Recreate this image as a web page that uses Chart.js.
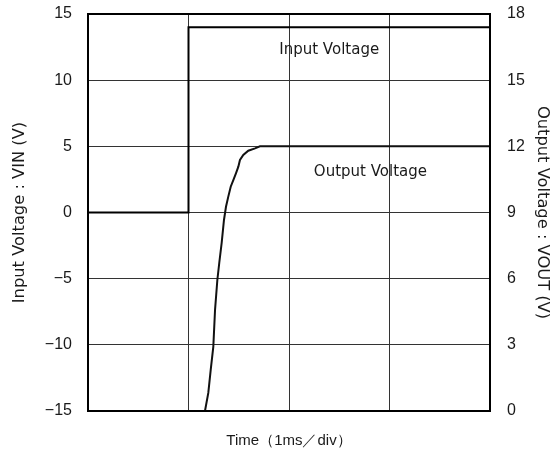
<!DOCTYPE html>
<html>
<head>
<meta charset="utf-8">
<script src="https://cdn.jsdelivr.net/npm/chart.js@4/dist/chart.umd.min.js"></script>
<style>
html,body{margin:0;padding:0;background:#fff;}
#wrap{width:560px;height:457px;position:relative;}
</style>
</head>
<body>
<div id="wrap"><canvas id="c" width="560" height="457"></canvas></div>
<script>
// Time in divisions (1 ms/div)
const inputTime = [0, 1, 1, 4];
const inputVoltage = [0, 0, 14, 14];           // VIN (V), left axis
const outputTime = [1.164, 1.197, 1.221, 1.247, 1.264, 1.287, 1.306, 1.330, 1.353, 1.373, 1.396, 1.420, 1.446, 1.473, 1.496, 1.512, 1.545, 1.595, 1.662, 1.711, 4];
const outputVoltage = [0, 0.82, 1.86, 2.92, 4.58, 5.94, 6.71, 7.62, 8.66, 9.26, 9.72, 10.17, 10.47, 10.79, 11.08, 11.38, 11.61, 11.80, 11.91, 12.0, 12.0]; // VOUT (V), right axis
const leftTicks = [-15, -10, -5, 0, 5, 10, 15];
const rightTicks = [0, 3, 6, 9, 12, 15, 18];
const labelTexts = ['Input Voltage', 'Output Voltage'];
const labelX = [2.40, 2.81];
const labelY = [12.3, 3.05];

const FONT = "'Liberation Sans', Arial, sans-serif";
const LFONT = "'DejaVu Sans', sans-serif";
const TXT = '#1a1a1a';

const inputData = inputTime.map((t, i) => ({x: t, y: inputVoltage[i]}));
const outputData = outputTime.map((t, i) => ({x: t, y: outputVoltage[i]}));

const frame = {
  id: 'frame',
  afterDatasetsDraw(chart) {
    const {ctx, chartArea: a, scales} = chart;
    ctx.save();
    ctx.strokeStyle = '#000';
    ctx.lineWidth = 2;
    ctx.strokeRect(a.left, a.top, a.right - a.left, a.bottom - a.top);
    ctx.fillStyle = TXT;
    ctx.font = "15px " + LFONT;
    ctx.textAlign = 'center';
    ctx.textBaseline = 'middle';
    labelTexts.forEach((t, i) => {
      ctx.fillText(t, scales.x.getPixelForValue(labelX[i]), scales.y.getPixelForValue(labelY[i]));
    });
    ctx.restore();
  }
};

function fixV(width) {
  return function (s) { s.width = width; s.paddingTop = 14; s.paddingBottom = 0; };
}

new Chart(document.getElementById('c'), {
  type: 'scatter',
  data: {
    datasets: [
      {data: inputData, yAxisID: 'y', showLine: true, borderColor: '#000', borderWidth: 2, pointRadius: 0, tension: 0},
      {data: outputData, yAxisID: 'y2', showLine: true, borderColor: '#111', borderWidth: 2, pointRadius: 0, tension: 0}
    ]
  },
  options: {
    responsive: false,
    animation: false,
    layout: {padding: {top: 0, left: 0, right: 0, bottom: 0}},
    plugins: {legend: {display: false}, tooltip: {enabled: false}},
    scales: {
      x: {
        type: 'linear', min: 0, max: 4,
        ticks: {stepSize: 1, display: false},
        grid: {color: '#333', lineWidth: 1, drawTicks: false},
        border: {display: false},
        title: {display: true, text: 'Time（1ms／div）', color: TXT, font: {family: FONT, size: 15}, padding: {top: 0, bottom: 7}},
        afterFit(s) { s.height = 46; s.paddingLeft = 0; s.paddingRight = 0; }
      },
      y: {
        position: 'left', min: -15, max: 15,
        afterBuildTicks(s) { s.ticks = leftTicks.map(v => ({value: v})); },
        ticks: {color: TXT, font: {family: FONT, size: 16}, padding: 16,
          callback: v => String(v).replace('-', '−')},
        grid: {color: '#333', lineWidth: 1, drawTicks: false},
        border: {display: false},
        title: {display: true, text: 'Input Voltage : VIN (V)', color: TXT, font: {family: LFONT, size: 16.3}, padding: {top: 10, bottom: 0}},
        afterFit: fixV(88)
      },
      y2: {
        position: 'right', min: 0, max: 18,
        afterBuildTicks(s) { s.ticks = rightTicks.map(v => ({value: v})); },
        ticks: {color: TXT, font: {family: FONT, size: 16}, padding: 17},
        grid: {drawOnChartArea: false, drawTicks: false},
        border: {display: false},
        title: {display: true, text: 'Output Voltage : VOUT (V)', color: TXT, font: {family: LFONT, size: 16.3}, padding: {top: 8, bottom: 0}},
        afterFit: fixV(70)
      }
    }
  },
  plugins: [frame]
});
</script>
</body>
</html>
